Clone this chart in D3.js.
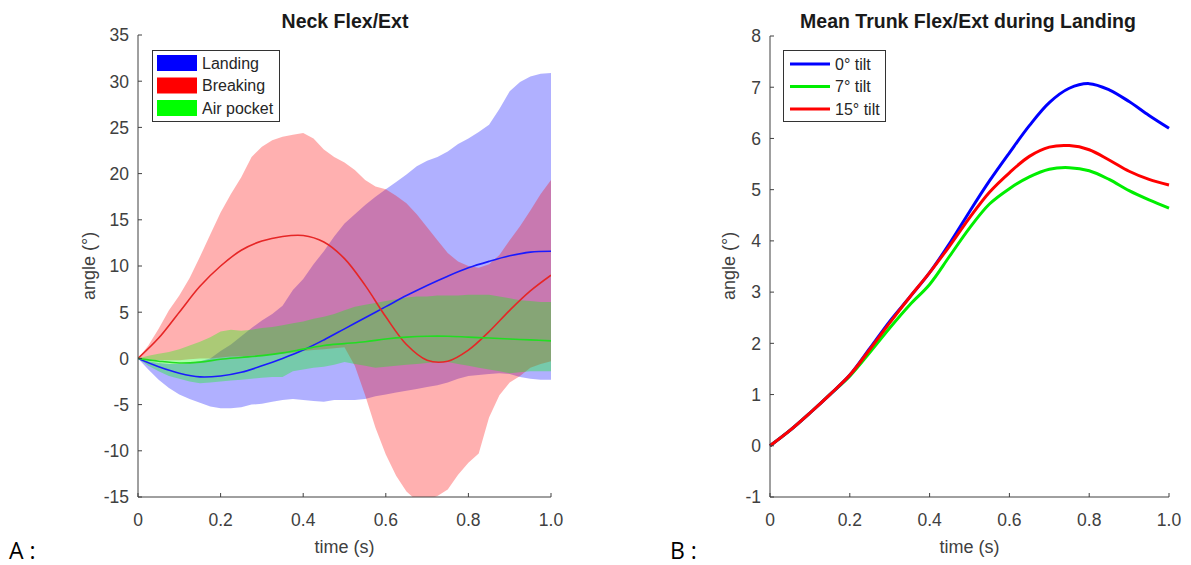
<!DOCTYPE html>
<html><head><meta charset="utf-8">
<script src="https://cdn.jsdelivr.net/npm/d3@7"></script>
<style>body{margin:0;background:#fff;} svg{display:block;}</style>
</head><body>
<svg id="c" width="1191" height="565"></svg>
<script>
// ---------- Data: panel A (Neck Flex/Ext) ----------
const timeMeanA = [0,0.05,0.1,0.15,0.2,0.25,0.3,0.35,0.4,0.45,0.5,0.55,0.6,0.65,0.7,0.75,0.8,0.85,0.9,0.95,1.0];
const landingMean = [0,-0.9,-1.6,-2.0,-1.9,-1.5,-0.8,0,0.9,2.0,3.2,4.4,5.6,6.8,7.9,8.9,9.8,10.5,11.1,11.5,11.6];
const breakingMean = [0,2.2,5.0,7.8,10.0,11.7,12.7,13.2,13.3,12.6,10.8,7.9,4.5,1.5,-0.2,-0.3,0.9,2.9,5.2,7.3,9.0];
const airMean = [0,-0.3,-0.5,-0.4,-0.1,0.1,0.3,0.6,1.0,1.4,1.6,1.8,2.1,2.3,2.4,2.4,2.3,2.2,2.1,2.0,1.9];

const timeBandA = [0,0.025,0.05,0.075,0.1,0.125,0.15,0.175,0.2,0.225,0.25,0.275,0.3,0.325,0.35,0.375,0.4,0.425,0.45,0.475,0.5,0.525,0.55,0.575,0.6,0.625,0.65,0.675,0.7,0.725,0.75,0.775,0.8,0.825,0.85,0.875,0.9,0.925,0.95,0.975,1.0];
const landingUpper = [0,-0.3,-0.5,-0.6,-0.6,-0.5,-0.3,0,0.8,1.5,2.4,3.3,4.1,4.8,5.7,7.4,8.6,10.2,11.6,13.2,14.6,15.6,16.6,17.5,18.3,19.1,19.9,20.8,21.4,21.8,22.4,23.2,23.8,24.5,25.3,27.0,28.9,29.9,30.5,30.8,30.9];
const landingLower = [0,-1.2,-2.3,-3.2,-3.9,-4.4,-4.8,-5.2,-5.4,-5.4,-5.3,-5.0,-4.9,-4.7,-4.5,-4.4,-4.5,-4.6,-4.7,-4.5,-4.5,-4.5,-4.4,-4.1,-3.9,-3.7,-3.5,-3.3,-3.1,-2.9,-2.6,-2.2,-1.9,-1.8,-1.7,-1.6,-1.7,-2.0,-2.2,-2.3,-2.3];
const breakingUpper = [0,1.4,3.2,5.2,6.8,8.7,11.0,13.4,15.8,17.8,19.6,21.8,22.9,23.6,24.0,24.2,24.4,23.8,22.6,21.8,21.2,20.4,19.3,18.6,18.3,17.6,16.8,15.6,14.2,12.8,11.4,10.5,10.0,9.8,10.2,11.2,12.8,14.3,16.0,17.8,19.3];
const breakingLower = [0,-0.1,-0.2,-0.2,-0.2,-0.1,0,0,0.1,0.2,0.2,0.3,0.3,0.4,0.5,0.6,0.8,0.9,1.0,1.1,1.2,-0.8,-4.0,-7.5,-10.4,-12.7,-14.4,-15.4,-15.3,-14.9,-14.2,-12.6,-11.3,-10.3,-6.4,-4.0,-2.6,-1.9,-1.0,-0.6,-0.3];
const airUpper = [0,0.3,0.5,0.7,1.0,1.4,1.8,2.3,2.9,3.1,3.0,3.1,3.3,3.4,3.6,3.8,4.0,4.3,4.5,4.8,5.2,5.6,5.8,6.0,6.2,6.4,6.6,6.7,6.7,6.8,6.8,6.8,6.9,6.9,6.9,6.7,6.5,6.3,6.2,6.1,6.1];
const airLower = [0,-0.8,-1.4,-1.9,-2.2,-2.5,-2.7,-2.6,-2.5,-2.4,-2.3,-2.2,-2.1,-2.0,-2.0,-1.4,-1.2,-1.0,-0.9,-0.7,-0.4,-0.6,-0.8,-1.0,-0.9,-0.8,-0.7,-0.6,-0.5,-0.4,-0.4,-0.6,-0.8,-1.0,-1.2,-1.4,-1.6,-1.5,-1.4,-1.4,-1.4];

const seriesNamesA = ["Landing","Breaking","Air pocket"];
const yTicksA = [-15,-10,-5,0,5,10,15,20,25,30,35];

// ---------- Data: panel B (Mean Trunk Flex/Ext during Landing) ----------
const timeB = [0,0.05,0.1,0.15,0.2,0.25,0.3,0.35,0.4,0.45,0.5,0.55,0.6,0.65,0.7,0.75,0.8,0.85,0.9,0.95,1.0];
const tilt0 = [0,0.3,0.64,1.0,1.38,1.9,2.43,2.9,3.38,3.95,4.57,5.17,5.72,6.25,6.7,6.98,7.07,6.95,6.72,6.45,6.2];
const tilt7 = [0,0.3,0.64,1.0,1.36,1.82,2.3,2.75,3.15,3.7,4.25,4.72,5.02,5.25,5.4,5.43,5.37,5.2,4.98,4.8,4.64];
const tilt15 = [0,0.3,0.64,1.0,1.38,1.88,2.4,2.9,3.38,3.9,4.45,4.95,5.33,5.65,5.83,5.86,5.78,5.58,5.36,5.2,5.09];
const seriesNamesB = ["0° tilt","7° tilt","15° tilt"];
const yTicksB = [-1,0,1,2,3,4,5,6,7,8];

const xTicks = [0,0.2,0.4,0.6,0.8,1.0];
const xTickLabels = ["0","0.2","0.4","0.6","0.8","1.0"];

// ---------- Drawing ----------
const svg = d3.select("#c");
const FONT = "'Liberation Sans', Arial, Helvetica, sans-serif";
const AX = "#404040", TXT = "#404040";
const TICK_FS = 17.5, LABEL_FS = 18, TITLE_FS = 19.5, LEG_FS = 16;

function axes(g, x, y, yTicks) {
  const [x0, x1] = x.range();
  const [yb, yt] = y.range();
  g.append("line").attr("x1", x0).attr("x2", x0).attr("y1", yb).attr("y2", yt).attr("stroke", AX).attr("stroke-width", 1);
  g.append("line").attr("x1", x0).attr("x2", x1).attr("y1", yb).attr("y2", yb).attr("stroke", AX).attr("stroke-width", 1);
  yTicks.forEach(v => {
    g.append("line").attr("x1", x0).attr("x2", x0 + 4).attr("y1", y(v)).attr("y2", y(v)).attr("stroke", AX);
    g.append("text").attr("x", x0 - 9).attr("y", y(v)).attr("dy", "0.36em").attr("text-anchor", "end")
      .attr("font-family", FONT).attr("font-size", TICK_FS).attr("fill", TXT).text(v);
  });
  xTicks.forEach((v, i) => {
    g.append("line").attr("x1", x(v)).attr("x2", x(v)).attr("y1", yb).attr("y2", yb - 4).attr("stroke", AX);
    g.append("text").attr("x", x(v)).attr("y", yb + 29).attr("text-anchor", "middle")
      .attr("font-family", FONT).attr("font-size", TICK_FS).attr("fill", TXT).text(xTickLabels[i]);
  });
  g.append("text").attr("x", (x0 + x1) / 2).attr("y", yb + 56).attr("text-anchor", "middle")
    .attr("font-family", FONT).attr("font-size", LABEL_FS).attr("fill", TXT).text("time (s)");
}

// Panel A
const xA = d3.scaleLinear().domain([0, 1]).range([138, 551]);
const yA = d3.scaleLinear().domain([-15, 35]).range([497, 35]);
const gA = svg.append("g");
svg.append("defs").append("clipPath").attr("id", "clipA").append("rect")
  .attr("x", 138).attr("y", 35).attr("width", 413).attr("height", 462);

const bandData = [
  {u: landingUpper, l: landingLower, c: "#0000ff", o: 0.31},
  {u: breakingUpper, l: breakingLower, c: "#ff0000", o: 0.31},
  {u: airUpper, l: airLower, c: "#00ff00", o: 0.33}
];
const area = d3.area().x(d => xA(d.t)).y0(d => yA(d.l)).y1(d => yA(d.u));
const plotA = gA.append("g").attr("clip-path", "url(#clipA)");
bandData.forEach(b => {
  const pts = timeBandA.map((t, i) => ({t, u: b.u[i], l: b.l[i]}));
  plotA.append("path").datum(pts).attr("d", area).attr("fill", b.c).attr("fill-opacity", b.o).attr("stroke", "none");
});
const meanData = [
  {v: landingMean, c: "#1a1aff"},
  {v: breakingMean, c: "#e62626"},
  {v: airMean, c: "#22dd22"}
];
const lineA = d3.line().x((d, i) => xA(timeMeanA[i])).y(d => yA(d)).curve(d3.curveCatmullRom);
meanData.forEach(m => {
  plotA.append("path").datum(m.v).attr("d", lineA).attr("fill", "none").attr("stroke", m.c).attr("stroke-width", 1.6);
});
axes(gA, xA, yA, yTicksA);
gA.append("text").attr("transform", "translate(95,266) rotate(-90)").attr("text-anchor", "middle")
  .attr("font-family", FONT).attr("font-size", LABEL_FS).attr("fill", TXT).text("angle (°)");
gA.append("text").attr("x", 345).attr("y", 28).attr("text-anchor", "middle").attr("font-family", FONT)
  .attr("font-size", TITLE_FS).attr("font-weight", "bold").attr("fill", "#1a1a1a").text("Neck Flex/Ext");

// Legend A
const legA = gA.append("g");
legA.append("rect").attr("x", 152.5).attr("y", 50.5).attr("width", 127).attr("height", 71)
  .attr("fill", "#fff").attr("stroke", "#333").attr("stroke-width", 1);
const legColA = ["#0000ff", "#ff0000", "#00ff00"];
seriesNamesA.forEach((n, i) => {
  const cy = 63 + i * 22.5;
  legA.append("rect").attr("x", 157).attr("y", cy - 8).attr("width", 40).attr("height", 16).attr("fill", legColA[i]);
  legA.append("text").attr("x", 202).attr("y", cy).attr("dy", "0.36em").attr("font-family", FONT)
    .attr("font-size", LEG_FS).attr("fill", "#262626").text(n);
});

// Panel B
const xB = d3.scaleLinear().domain([0, 1]).range([770, 1169]);
const yB = d3.scaleLinear().domain([-1, 8]).range([497, 36]);
const gB = svg.append("g");
const lineB = d3.line().x((d, i) => xB(timeB[i])).y(d => yB(d)).curve(d3.curveCatmullRom);
const seriesB = [
  {v: tilt0, c: "#0000ff"},
  {v: tilt7, c: "#00ee00"},
  {v: tilt15, c: "#ff0000"}
];
[seriesB[1], seriesB[0], seriesB[2]].forEach(s => {
  gB.append("path").datum(s.v).attr("d", lineB).attr("fill", "none").attr("stroke", s.c)
    .attr("stroke-width", 3).attr("stroke-linejoin", "round");
});
axes(gB, xB, yB, yTicksB);
gB.append("text").attr("transform", "translate(735,266) rotate(-90)").attr("text-anchor", "middle")
  .attr("font-family", FONT).attr("font-size", LABEL_FS).attr("fill", TXT).text("angle (°)");
gB.append("text").attr("x", 968).attr("y", 28).attr("text-anchor", "middle").attr("font-family", FONT)
  .attr("font-size", TITLE_FS).attr("font-weight", "bold").attr("fill", "#1a1a1a").text("Mean Trunk Flex/Ext during Landing");

const legB = gB.append("g");
legB.append("rect").attr("x", 783.5).attr("y", 50.5).attr("width", 102).attr("height", 71)
  .attr("fill", "#fff").attr("stroke", "#333").attr("stroke-width", 1);
seriesB.forEach((s, i) => {
  const cy = 64 + i * 22.5;
  legB.append("line").attr("x1", 790).attr("x2", 830).attr("y1", cy).attr("y2", cy)
    .attr("stroke", s.c).attr("stroke-width", 3);
  legB.append("text").attr("x", 835).attr("y", cy).attr("dy", "0.36em").attr("font-family", FONT)
    .attr("font-size", LEG_FS).attr("fill", "#262626").text(seriesNamesB[i]);
});

// Panel letters
svg.append("text").attr("x", 9).attr("y", 559).attr("font-family", "'Open Sans', 'Noto Sans', sans-serif")
  .attr("font-size", 23).attr("fill", "#000").text("A :");
svg.append("text").attr("x", 670).attr("y", 559).attr("font-family", "'Open Sans', 'Noto Sans', sans-serif")
  .attr("font-size", 23).attr("fill", "#000").text("B :");
</script>
</body></html>
